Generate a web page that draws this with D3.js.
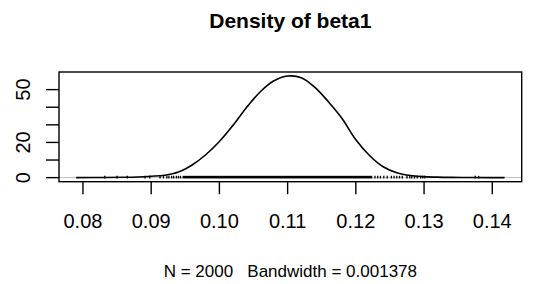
<!DOCTYPE html>
<html>
<head>
<meta charset="utf-8">
<script src="https://cdn.jsdelivr.net/npm/d3@7"></script>
<style>
  body { margin: 0; background: #fff; }
  svg { display: block; font-family: "Liberation Sans", Arial, sans-serif; }
</style>
</head>
<body>
<svg></svg>
<script>
// kernel density of beta1
var densX = [0.0790, 0.0830, 0.0860, 0.0880, 0.0900, 0.0920, 0.0940, 0.0960, 0.0980, 0.1000,
             0.1020, 0.1040, 0.1060, 0.1080, 0.1100, 0.1120, 0.1140, 0.1160, 0.1180, 0.1200,
             0.1220, 0.1240, 0.1260, 0.1280, 0.1300, 0.1320, 0.1340, 0.1370, 0.1395, 0.1418];
var densY = [0.0, 0.08, 0.2, 0.4, 0.8, 1.4, 3.2, 7.2, 13.0, 20.5,
             29.7, 40.0, 48.8, 55.0, 57.7, 56.8, 51.3, 43.0, 33.5, 21.5,
             12.6, 6.2, 2.8, 1.2, 0.6, 0.3, 0.15, 0.08, 0.03, 0.0];

// observations shown as tiny ticks (sparse tails) and the dense middle stretch
var obsPoints = [0.0832, 0.0850, 0.0865, 0.0891, 0.0898, 0.0913, 0.0918, 0.0923, 0.0926,
                 0.0930, 0.0933, 0.0937, 0.0940, 0.0943,
                 0.1228, 0.1232, 0.1236, 0.1241, 0.1246, 0.1252, 0.1256, 0.1260, 0.1264,
                 0.1268, 0.1275, 0.1279, 0.1282, 0.1286, 0.1290, 0.1295, 0.1298, 0.1301,
                 0.1375, 0.1380];
var obsSpans = [[0.0946, 0.1224]];

var xTicks = [0.08, 0.09, 0.10, 0.11, 0.12, 0.13, 0.14];
var yTicks = [0, 10, 20, 30, 40, 50];
var yLabels = [0, 20, 50];

var title = "Density of beta1";
var xLabel = "N = 2000   Bandwidth = 0.001378";

// plot box
var W = 547, H = 284;
var margin = {top: 72, right: 25.3, bottom: 102.3, left: 59};

var svg = d3.select("svg").attr("width", W).attr("height", H);
svg.append("rect").attr("width", W).attr("height", H).attr("fill", "#fff");

// R style 4% padding on both axes
var xr = d3.extent(densX), yMax = d3.max(densY);
var xPad = 0.04 * (xr[1] - xr[0]);
var x = d3.scaleLinear()
  .domain([xr[0] - xPad, xr[1] + xPad])
  .range([margin.left, W - margin.right]);
var y = d3.scaleLinear()
  .domain([-0.04 * yMax, yMax * 1.04])
  .range([H - margin.bottom, margin.top]);

// zero line
svg.append("line")
  .attr("x1", margin.left).attr("x2", W - margin.right)
  .attr("y1", y(0)).attr("y2", y(0))
  .attr("stroke", "#bebebe").attr("stroke-width", 1);

// density curve
var line = d3.line()
  .x(function(d, i) { return x(densX[i]); })
  .y(function(d) { return y(d); })
  .curve(d3.curveCatmullRom.alpha(0.5));

svg.append("path")
  .attr("d", line(densY))
  .attr("fill", "none")
  .attr("stroke", "#000")
  .attr("stroke-width", 1.6);

// observation ticks, height max/100 like coda's densplot
var hObs = yMax / 100;
svg.selectAll(".obs")
  .data(obsPoints)
  .enter().append("line")
  .attr("class", "obs")
  .attr("x1", function(d) { return x(d); })
  .attr("x2", function(d) { return x(d); })
  .attr("y1", y(0) + 0.8)
  .attr("y2", y(hObs) - 0.8)
  .attr("stroke", "#000")
  .attr("stroke-width", 1.3);

svg.selectAll(".span")
  .data(obsSpans)
  .enter().append("rect")
  .attr("x", function(d) { return x(d[0]); })
  .attr("width", function(d) { return x(d[1]) - x(d[0]); })
  .attr("y", y(hObs) - 0.8)
  .attr("height", y(0) - y(hObs) + 1.6)
  .attr("fill", "#000");

// box
svg.append("rect")
  .attr("x", margin.left).attr("y", margin.top)
  .attr("width", W - margin.right - margin.left)
  .attr("height", H - margin.bottom - margin.top)
  .attr("fill", "none").attr("stroke", "#000").attr("stroke-width", 1.4);

// x axis ticks + labels
var xAxis = svg.append("g");
xAxis.selectAll("line")
  .data(xTicks)
  .enter().append("line")
  .attr("x1", function(d) { return x(d); })
  .attr("x2", function(d) { return x(d); })
  .attr("y1", H - margin.bottom)
  .attr("y2", H - margin.bottom + 12.5)
  .attr("stroke", "#000").attr("stroke-width", 1.4);
xAxis.selectAll("text")
  .data(xTicks)
  .enter().append("text")
  .attr("x", function(d) { return x(d); })
  .attr("y", 228)
  .attr("text-anchor", "middle")
  .attr("font-size", 20)
  .text(function(d) { return d3.format(".2f")(d); });

// y axis ticks + labels (rotated like R)
var yAxis = svg.append("g");
yAxis.selectAll("line")
  .data(yTicks)
  .enter().append("line")
  .attr("x1", margin.left)
  .attr("x2", margin.left - 13)
  .attr("y1", function(d) { return y(d); })
  .attr("y2", function(d) { return y(d); })
  .attr("stroke", "#000").attr("stroke-width", 1.4);
yAxis.selectAll("text")
  .data(yLabels)
  .enter().append("text")
  .attr("transform", function(d) { return "translate(30," + y(d) + ") rotate(-90)"; })
  .attr("text-anchor", "middle")
  .attr("font-size", 20)
  .text(function(d) { return d; });

// titles
svg.append("text")
  .attr("x", (margin.left + W - margin.right) / 2)
  .attr("y", 28)
  .attr("text-anchor", "middle")
  .attr("font-size", 21)
  .attr("font-weight", "bold")
  .text(title);

svg.append("text")
  .attr("x", (margin.left + W - margin.right) / 2)
  .attr("y", 277)
  .attr("text-anchor", "middle")
  .attr("font-size", 17)
  .style("white-space", "pre")
  .text(xLabel);
</script>
</body>
</html>
